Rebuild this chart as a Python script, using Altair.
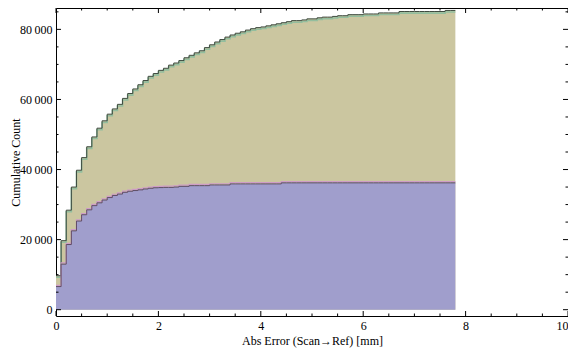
import altair as alt
import pandas as pd

# ---- data ----
bin_width = 0.1
olive_counts = [
    9700, 19700, 28400, 35000, 39800, 43400, 46500, 49300, 51800, 53900,
    55800, 57300, 58600, 60300, 61700, 63000, 64200, 65400, 66600, 67400,
    68300, 68900, 69800, 70400, 71100, 71900, 72600, 73300, 73900, 74800,
    75600, 76400, 77100, 77800, 78400, 78900, 79300, 79800, 80200, 80500,
    80700, 81000, 81300, 81600, 81900, 82200, 82500, 82500, 82700, 83000,
    83000, 83300, 83500, 83500, 83700, 83900, 83900, 84200, 84200, 84200,
    84400, 84400, 84400, 84700, 84700, 84700, 84700,
    85100, 85100, 85100, 85100, 85100, 85100, 85100, 85100, 85100,
    85400, 85400,
]
purple_counts = [
    6600, 13000, 18600, 22500, 25300, 27100, 28500, 29700, 30500, 31300,
    32000, 32600, 33000, 33500, 33800, 34000, 34200, 34450, 34650, 34800,
    34850, 34900, 34900, 35000, 35200, 35200,
    35400, 35400, 35400, 35400,
    35600, 35600, 35600, 35600,
    35900, 35900, 35900, 35900, 35900, 35900, 35900, 35900, 35900, 35900,
] + [36200] * 34

x_major = [0, 2, 4, 6, 8, 10]
x_minor = [0.5, 1, 1.5, 2.5, 3, 3.5, 4.5, 5, 5.5, 6.5, 7, 7.5, 8.5, 9, 9.5]
y_major = [0, 20000, 40000, 60000, 80000]
y_minor = [5000, 10000, 15000, 25000, 30000, 35000, 45000, 50000, 55000,
           65000, 70000, 75000, 85000]

x_title = "Abs Error (Scan\u2192Ref) [mm]"
y_title = "Cumulative Count"

# ---- build tables ----
def step_table(counts):
    n = len(counts)
    xs = [round(i * bin_width, 2) for i in range(n + 1)]
    ys = counts + [counts[-1]]
    return pd.DataFrame({"x": xs, "y": ys})

olive = step_table(olive_counts)
purple = step_table(purple_counts)

W, H = 512, 308
FONT = "Liberation Serif"
xscale = alt.Scale(domain=[0, 10], nice=False, zero=False)
yscale = alt.Scale(domain=[-1800, 86100], nice=False, zero=False)

xaxis = alt.Axis(values=x_major, ticks=False, tickSize=0, domain=False, grid=False,
                 labelFont=FONT, labelFontSize=12, labelColor="black",
                 labelPadding=4, title=x_title, titleFont=FONT, titleFontSize=12,
                 titleFontWeight="normal", titleColor="black", titleBaseline="middle",
                 titleY=24, labelFlush=False,
                 labelAlign={"condition": {"test": "datum.value == 10", "value": "right"},
                             "value": "center"})
yaxis = alt.Axis(values=y_major, ticks=False, tickSize=0, domain=False, grid=False,
                 labelFont=FONT, labelFontSize=12, labelColor="black",
                 labelPadding=4, title=y_title, titleFont=FONT, titleFontSize=12,
                 titleFontWeight="normal", titleColor="black",
                 titleBaseline="middle", titleX=-41, titleAngle=270,
                 labelExpr="replace(format(datum.value, ','), ',', '\u2009')",
                 labelFlush=False)

base_x = alt.X("x:Q", scale=xscale, axis=xaxis)
base_y = alt.Y("y:Q", scale=yscale, axis=yaxis)

olive_area = alt.Chart(olive).mark_area(interpolate="step-after", color="#CBC6A0",
                                         opacity=1).encode(x=base_x, y=base_y)
olive_hl = alt.Chart(olive).mark_line(interpolate="step-after", color="#93BE9E",
                                       strokeWidth=1.6, yOffset=1.6).encode(x="x:Q", y="y:Q")
olive_line = alt.Chart(olive).mark_line(interpolate="step-after", color="#3E4B40",
                                         strokeWidth=1).encode(x="x:Q", y="y:Q")

purple_area = alt.Chart(purple).mark_area(interpolate="step-after", color="#A09ECC",
                                           opacity=1).encode(x="x:Q", y="y:Q")
purple_hl = alt.Chart(purple).mark_line(interpolate="step-after", color="#CE9CC6",
                                         strokeWidth=1.2, yOffset=-1.2).encode(x="x:Q", y="y:Q")
purple_line = alt.Chart(purple).mark_line(interpolate="step-after", color="#5E4D66",
                                           strokeWidth=1).encode(x="x:Q", y="y:Q")

# ---- inward frame ticks ----
def xticks(vals, length):
    df = pd.DataFrame({"v": vals})
    bottom = alt.Chart(df).mark_rule(color="black", strokeWidth=1).encode(
        x=alt.X("v:Q", scale=xscale), y=alt.value(H), y2=alt.value(H - length))
    top = alt.Chart(df).mark_rule(color="black", strokeWidth=1).encode(
        x=alt.X("v:Q", scale=xscale), y=alt.value(0), y2=alt.value(length))
    return [bottom, top]

def yticks(vals, length):
    df = pd.DataFrame({"v": vals})
    left = alt.Chart(df).mark_rule(color="black", strokeWidth=1).encode(
        y=alt.Y("v:Q", scale=yscale), x=alt.value(0), x2=alt.value(length))
    right = alt.Chart(df).mark_rule(color="black", strokeWidth=1).encode(
        y=alt.Y("v:Q", scale=yscale), x=alt.value(W), x2=alt.value(W - length))
    return [left, right]

ticks = xticks(x_major, 5) + xticks(x_minor, 2.5) + yticks(y_major, 5) + yticks(y_minor, 2.5)

chart = alt.layer(
    olive_area, olive_hl, olive_line, purple_area, purple_hl, purple_line, *ticks
).properties(
    width=W, height=H,
    autosize=alt.AutoSizeParams(type="none"),
    padding={"left": 48, "top": 0, "right": 0, "bottom": 33},
    background="white",
).configure_view(stroke="black", strokeWidth=1)

chart.save("out.html", embed_options={"renderer": "svg", "actions": False})
